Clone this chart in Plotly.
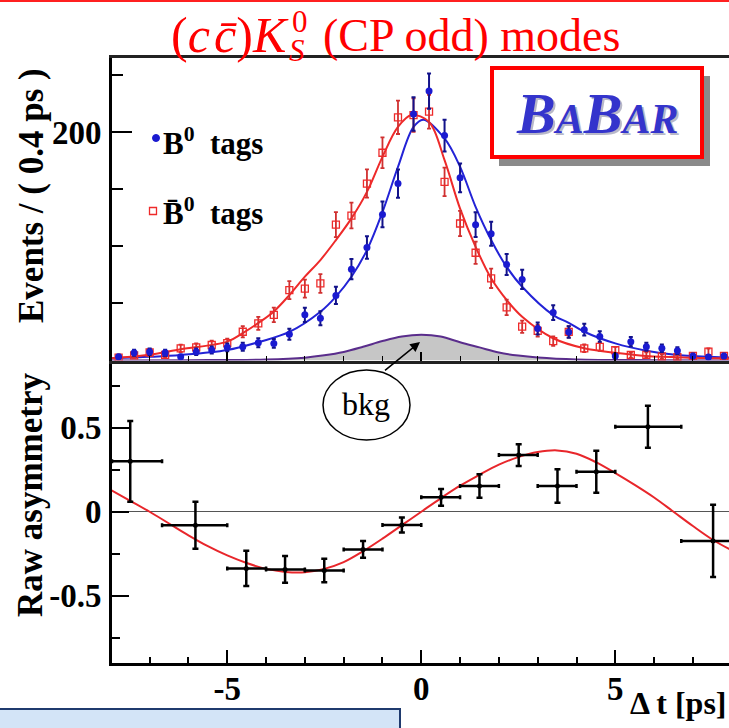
import plotly.graph_objects as go

# ---------------- data ----------------
bin_centers = [-7.8, -7.4, -7.0, -6.6, -6.2, -5.8, -5.4, -5.0, -4.6, -4.2,
               -3.8, -3.4, -3.0, -2.6, -2.2, -1.8, -1.4, -1.0, -0.6, -0.2,
               0.2, 0.6, 1.0, 1.4, 1.8, 2.2, 2.6, 3.0, 3.4, 3.8,
               4.2, 4.6, 5.0, 5.4, 5.8, 6.2, 6.6, 7.0, 7.4, 7.8]
b0_counts = [3.3, 6.8, 7.7, 6.8, 3.3, 7.7, 9.2, 11.5, 12, 15.6,
             15, 23, 40, 37, 57, 80, 99, 128, 155, 216,
             236, 197, 160, 119, 111, 84, 71, 28, 42, 25,
             27, 21, 4, 16.5, 12, 10.7, 8.6, 4, 3, 4]
b0_err = [1.8, 2.6, 2.8, 2.6, 1.8, 2.8, 3.0, 3.4, 3.5, 3.9,
          3.9, 4.8, 6.3, 6.1, 7.5, 8.9, 9.9, 11.3, 12.4, 14.7,
          15.4, 14.0, 12.6, 10.9, 10.5, 9.2, 8.4, 5.3, 6.5, 5.0,
          5.2, 4.6, 2.0, 4.1, 3.5, 3.3, 2.9, 2.0, 1.7, 2.0]
b0bar_counts = [2.5, 4.5, 7, 5, 10.6, 11.5, 13.6, 15.3, 25.2, 32.5,
                40, 61.7, 63, 67.5, 119, 127, 155, 182, 213, 215,
                218, 156.5, 120, 94.4, 72, 46.5, 29.6, 26, 17, 25,
                10.7, 12, 9, 4.8, 5, 3.5, 3, 4, 7.7, 4]
b0bar_err = [1.6, 2.1, 2.6, 2.2, 3.3, 3.4, 3.7, 3.9, 5.0, 5.7,
             6.3, 7.9, 7.9, 8.2, 10.9, 11.3, 12.4, 13.5, 14.6, 14.7,
             14.8, 12.5, 11.0, 9.7, 8.5, 6.8, 5.4, 5.1, 4.1, 5.0,
             3.3, 3.5, 3.0, 2.2, 2.2, 1.9, 1.7, 2.0, 2.8, 2.0]

# fit curves
b0_fit_t = [-8, -7, -6.2, -5, -4.15, -3.4, -2.6, -2.2, -1.8, -1.4, -1.0, -0.6,
            -0.2, 0.05, 0.6, 1.0, 1.4, 1.8, 2.2, 2.6, 3.4, 3.8, 4.2, 5.0, 5.8,
            6.6, 7.8, 8]
b0_fit_y = [1.9, 3.2, 4.8, 9.2, 16.5, 25, 42.7, 56, 73.4, 96.7, 130, 169.6,
            204.6, 211, 194.5, 169.6, 134.6, 105.5, 82, 64.6, 39.8, 33, 25.2, 15, 8.6,
            4.8, 2.8, 2.5]
b0bar_fit_t = [-8, -7, -6.2, -5, -4.6, -4.15, -3.8, -3.4, -3.0, -2.6, -2.2, -1.8,
               -1.4, -1.0, -0.6, -0.25, 0.2, 0.6, 1.0, 1.4, 1.8, 2.2, 2.6, 3.4,
               4.2, 5.0, 5.8, 7.0, 8]
b0bar_fit_y = [1.9, 5, 9.8, 16.5, 24, 34, 43, 57.3, 73.4, 88, 105.5, 124.5,
               147.7, 178.4, 204.6, 215, 209, 175.5, 133, 99.6, 72, 53, 38.3, 19.5,
               10.7, 6.8, 4, 2.5, 1.8]
bkg_t = [-8, -6, -4, -3, -2.5, -2, -1.5, -1, -0.5, 0, 0.5, 1, 1.5, 2, 2.5, 3, 4, 6, 8]
bkg_y = [0.1, 0.3, 0.9, 2.5, 4.5, 7.5, 12, 17, 21, 22.5, 21, 16, 11.5, 7, 4.3, 2.6, 0.9, 0.3, 0.1]

# raw asymmetry
asym_t = [-7.5, -5.82, -4.51, -3.51, -2.5, -1.5, -0.5, 0.51, 1.5, 2.51, 3.51, 4.51, 5.84, 7.52]
asym_t_lo = [-7.97, -6.68, -5.0, -4.0, -3.0, -2.0, -1.0, 0.0, 1.0, 2.0, 3.0, 4.0, 5.0, 6.7]
asym_t_hi = [-6.68, -5.0, -4.0, -3.0, -2.0, -1.0, 0.0, 1.0, 2.0, 3.0, 4.0, 5.0, 6.7, 8.0]
asym_val = [0.30, -0.08, -0.337, -0.343, -0.35, -0.224, -0.079, 0.086, 0.153, 0.337, 0.153, 0.238, 0.506, -0.174]
asym_err = [0.24, 0.14, 0.105, 0.08, 0.07, 0.05, 0.045, 0.05, 0.07, 0.065, 0.10, 0.125, 0.125, 0.215]
asym_fit_t = [-8, -7.5, -7, -6.5, -6, -5.5, -5, -4.5, -4, -3.5, -3, -2.5, -2, -1.5, -1, -0.5,
              0, 0.5, 1, 1.5, 2, 2.5, 3, 3.5, 4, 4.5, 5, 5.5, 6, 6.5, 7, 7.5, 8]
asym_fit_y = [0.13, 0.065, 0.0, -0.07, -0.14, -0.205, -0.26, -0.305, -0.34, -0.358, -0.36, -0.34,
              -0.30, -0.235, -0.16, -0.08, 0.0, 0.08, 0.155, 0.22, 0.28, 0.325, 0.355, 0.365,
              0.345, 0.295, 0.23, 0.16, 0.085, 0.0, -0.085, -0.165, -0.23]

x_tickvals = [-5, 0, 5]
x_ticktext = ["-5", "0", "5"]

# ---------------- layout helpers ----------------
L, T, W, H = 112, 58, 617, 605
FIG_W, FIG_H = 729, 728


def px(x):
    return (x - L) / W


def py(y):
    return (T + H - y) / H


SERIF = "Liberation Serif"
BLUE = "#2323d6"
RED = "#ee2a2a"

fig = go.Figure()

fig.add_trace(go.Scatter(x=bkg_t, y=bkg_y, mode="lines", fill="tozeroy",
                         fillcolor="#c6c6c6", line=dict(color="#5a2d8c", width=2, shape="spline"),
                         xaxis="x2", yaxis="y2", hoverinfo="skip"))
fig.add_trace(go.Scatter(x=b0_fit_t, y=b0_fit_y, mode="lines",
                         line=dict(color=BLUE, width=2, shape="spline"),
                         xaxis="x2", yaxis="y2"))
fig.add_trace(go.Scatter(x=b0bar_fit_t, y=b0bar_fit_y, mode="lines",
                         line=dict(color=RED, width=2, shape="spline"),
                         xaxis="x2", yaxis="y2"))
fig.add_trace(go.Scatter(x=bin_centers, y=b0bar_counts, mode="markers",
                         marker=dict(symbol="square-open", size=7, color=RED, line=dict(width=1.3)),
                         error_y=dict(type="data", array=b0bar_err, color="#d03030", thickness=1.8, width=2),
                         xaxis="x2", yaxis="y2"))
fig.add_trace(go.Scatter(x=bin_centers, y=b0_counts, mode="markers",
                         marker=dict(symbol="circle", size=7, color="#1a1ad0"),
                         error_y=dict(type="data", array=b0_err, color="#12128a", thickness=2, width=2),
                         xaxis="x2", yaxis="y2"))

fig.add_trace(go.Scatter(x=asym_fit_t, y=asym_fit_y, mode="lines",
                         line=dict(color="#e8262b", width=2, shape="spline"),
                         xaxis="x", yaxis="y"))
fig.add_trace(go.Scatter(x=asym_t, y=asym_val, mode="markers",
                         marker=dict(symbol="circle", size=5, color="black"),
                         error_x=dict(type="data", symmetric=False,
                                      array=[h - c for h, c in zip(asym_t_hi, asym_t)],
                                      arrayminus=[c - l for l, c in zip(asym_t_lo, asym_t)],
                                      color="black", thickness=2.5, width=2),
                         error_y=dict(type="data", array=asym_err, color="black", thickness=2.5, width=3),
                         xaxis="x", yaxis="y"))

tickfont = dict(family=SERIF, size=33, color="black", weight="bold")

fig.update_layout(
    width=FIG_W, height=FIG_H,
    margin=dict(l=L, r=FIG_W - L - W, t=T, b=FIG_H - T - H, autoexpand=False),
    paper_bgcolor="white", plot_bgcolor="white",
    showlegend=False,
    xaxis=dict(domain=[0, 1], anchor="y", range=[-7.97, 7.93], automargin=False,
               showline=True, linecolor="black", linewidth=3,
               ticks="inside", tickvals=x_tickvals, ticktext=x_ticktext,
               ticklen=13, tickwidth=2, tickcolor="black",
               minor=dict(tickvals=[-7, -6, -4, -3, -2, -1, 1, 2, 3, 4, 6, 7],
                          ticks="inside", ticklen=6, tickwidth=1.5, tickcolor="black"),
               tickfont=tickfont, ticklabelstandoff=-6,
               showgrid=False, zeroline=False),
    yaxis=dict(domain=[0, 0.5], anchor="x", range=[-0.9, 0.9], automargin=False,
               showline=True, linecolor="black", linewidth=3,
               ticks="inside", tickvals=[-0.5, 0, 0.5], ticktext=["-0.5", "0", "0.5"],
               ticklen=17, tickwidth=2, tickcolor="black",
               minor=dict(tickvals=[-0.75, -0.25, 0.25, 0.75],
                          ticks="inside", ticklen=8, tickwidth=1.5, tickcolor="black"),
               tickfont=tickfont, ticklabelstandoff=1,
               showgrid=False, zeroline=True, zerolinecolor="#555555", zerolinewidth=1),
    xaxis2=dict(domain=[0, 1], anchor="y2", matches="x", range=[-7.97, 7.93], automargin=False,
                showline=True, mirror=True, linecolor="#222222", linewidth=2.5,
                ticks="inside", tickvals=x_tickvals, ticklen=9, tickwidth=1.5, tickcolor="black",
                minor=dict(tickvals=[-7, -6, -4, -3, -2, -1, 1, 2, 3, 4, 6, 7],
                           ticks="inside", ticklen=5, tickwidth=1, tickcolor="black"),
                showticklabels=False, showgrid=False, zeroline=False),
    yaxis2=dict(domain=[0.5, 1], anchor="x2", range=[0, 265], automargin=False,
                showline=True, linecolor="black", linewidth=3,
                ticks="inside", tickvals=[200], ticktext=["200"],
                ticklen=20, tickwidth=2, tickcolor="black",
                minor=dict(tickvals=[50, 100, 150, 250],
                           ticks="inside", ticklen=11, tickwidth=1.5, tickcolor="black"),
                tickfont=tickfont, ticklabelstandoff=1,
                showgrid=False, zeroline=False),
)

shapes = []
shapes.append(dict(type="line", xref="paper", yref="paper", x0=px(0), x1=px(729), y0=py(1), y1=py(1),
                   line=dict(color="#ff2020", width=2)))
shapes.append(dict(type="rect", xref="paper", yref="paper", x0=px(499), x1=px(710), y0=py(76), y1=py(166),
                   fillcolor="#8a8a8a", line=dict(width=0)))
shapes.append(dict(type="rect", xref="paper", yref="paper", x0=px(492), x1=px(702), y0=py(68), y1=py(157),
                   fillcolor="white", line=dict(color="#ff0000", width=4)))
shapes.append(dict(type="circle", xref="paper", yref="paper", x0=px(323), x1=px(410), y0=py(370), y1=py(440),
                   fillcolor="white", line=dict(color="black", width=1.5)))
shapes.append(dict(type="circle", xref="paper", yref="paper", xsizemode="pixel", ysizemode="pixel",
                   xanchor=px(156), yanchor=py(138), x0=-3.5, x1=3.5, y0=-3.5, y1=3.5,
                   fillcolor="#1a1ad0", line=dict(color="#1a1ad0", width=1)))
shapes.append(dict(type="rect", xref="paper", yref="paper", xsizemode="pixel", ysizemode="pixel",
                   xanchor=px(153), yanchor=py(211), x0=-3.5, x1=3.5, y0=-3.5, y1=3.5,
                   fillcolor="white", line=dict(color=RED, width=1.3)))
shapes.append(dict(type="rect", xref="paper", yref="paper", x0=px(-2), x1=px(400), y0=py(709), y1=py(740),
                   fillcolor="#d3e4f7", line=dict(color="#1f3a6e", width=2)))
fig.update_layout(shapes=shapes)

ann = []
TITLE_FONT = dict(family=SERIF, size=46, color="#ff0000")
ann.append(dict(text="(<i>c</i>\u200a<i>c\u0304</i>)<i>K</i>", xref="paper", yref="paper",
                x=px(291), y=py(35), xanchor="right", yanchor="middle", showarrow=False,
                font=dict(family=SERIF, size=50, color="#ff0000")))
ann.append(dict(text="0", xref="paper", yref="paper",
                x=px(290), y=py(21), xanchor="left", yanchor="middle", showarrow=False,
                font=dict(family=SERIF, size=31, color="#ff0000")))
ann.append(dict(text="<i>S</i>", xref="paper", yref="paper",
                x=px(287), y=py(51), xanchor="left", yanchor="middle", showarrow=False,
                font=dict(family=SERIF, size=31, color="#ff0000")))
ann.append(dict(text="(CP odd) modes", xref="paper", yref="paper",
                x=px(321), y=py(35), xanchor="left", yanchor="middle", showarrow=False, font=TITLE_FONT))

babar = "<b><i>B<span style='font-size:42px'>A</span>B<span style='font-size:42px'>AR</span></i></b>"
ann.append(dict(text=babar, xref="paper", yref="paper", x=px(599), y=py(115), xanchor="center",
                yanchor="middle", showarrow=False, font=dict(family=SERIF, size=58, color="#b8b8c8")))
ann.append(dict(text=babar, xref="paper", yref="paper", x=px(597), y=py(113), xanchor="center",
                yanchor="middle", showarrow=False, font=dict(family=SERIF, size=58, color="#3434cc")))

LEG_FONT = dict(family=SERIF, size=31, color="black", weight="bold")
ann.append(dict(text="B<sup>0</sup>\u00a0\u00a0tags", xref="paper", yref="paper", x=px(161), y=py(141),
                xanchor="left", yanchor="middle", showarrow=False, font=LEG_FONT))
ann.append(dict(text="B\u0304<sup>0</sup>\u00a0\u00a0tags", xref="paper", yref="paper", x=px(161), y=py(211),
                xanchor="left", yanchor="middle", showarrow=False, font=LEG_FONT))

ann.append(dict(text="bkg", xref="paper", yref="paper", x=px(366), y=py(404), xanchor="center",
                yanchor="middle", showarrow=False, font=dict(family=SERIF, size=32, color="black")))
ann.append(dict(text=" ", xref="paper", yref="paper", x=px(420), y=py(342), showarrow=True,
                ax=-37, ay=30, arrowhead=2, arrowsize=1.3, arrowwidth=1.5, arrowcolor="black",
                font=dict(size=2)))

AX_FONT = dict(family=SERIF, size=35, color="black", weight="bold")
ann.append(dict(text="Events / ( 0.4 ps )", xref="paper", yref="paper", x=px(31), y=py(196),
                textangle=-90, xanchor="center", yanchor="middle", showarrow=False, font=AX_FONT))
ann.append(dict(text="Raw asymmetry", xref="paper", yref="paper", x=px(31), y=py(495),
                textangle=-90, xanchor="center", yanchor="middle", showarrow=False, font=AX_FONT))
ann.append(dict(text="\u0394 t [ps]", xref="paper", yref="paper", x=px(729), y=py(703),
                xanchor="right", yanchor="middle", showarrow=False,
                font=dict(family=SERIF, size=32, color="black", weight="bold")))
fig.update_layout(annotations=ann)

fig.write_html("out.html", config={"displayModeBar": False},
               post_script="document.body.style.margin='0px';document.body.style.overflow='hidden';")
